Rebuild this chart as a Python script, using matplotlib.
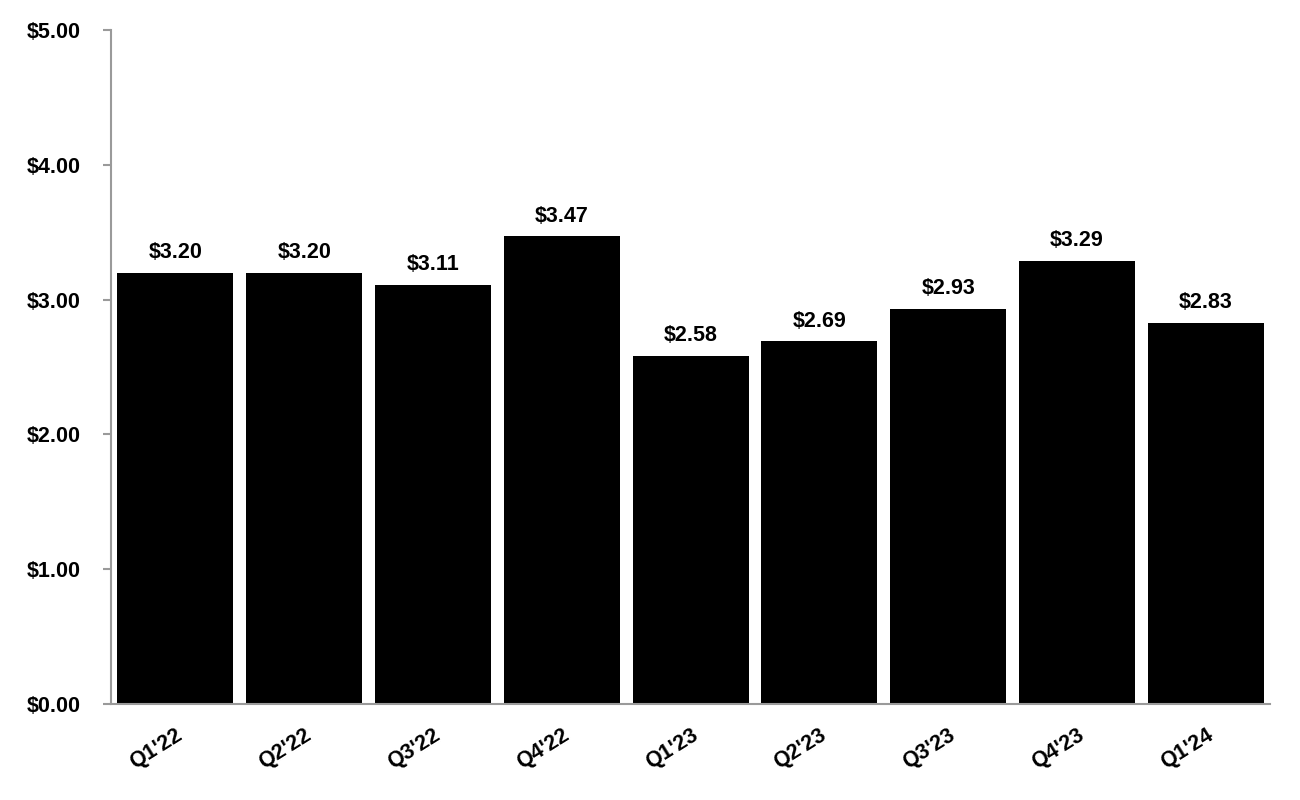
import matplotlib.pyplot as plt
from matplotlib.transforms import ScaledTranslation

quarters = ["Q1'22", "Q2'22", "Q3'22", "Q4'22", "Q1'23", "Q2'23", "Q3'23", "Q4'23", "Q1'24"]
values = [3.20, 3.20, 3.11, 3.47, 2.58, 2.69, 2.93, 3.29, 2.83]
y_ticks = [0, 1, 2, 3, 4, 5]

plt.rcParams['font.family'] = ['Liberation Sans', 'DejaVu Sans']
plt.rcParams['font.weight'] = 'bold'

fig = plt.figure(figsize=(13, 8), dpi=100)
ax = fig.add_axes([0.0854, 0.12, 0.977 - 0.0854, 0.8425])

x = range(len(quarters))
bars = ax.bar(x, values, width=0.9, color='black')
ax.bar_label(bars, labels=[f'${v:.2f}' for v in values], padding=7,
             fontsize=15.5, fontweight='bold')

ax.set_xlim(-0.5, 8.5)
ax.set_ylim(0, 5)
ax.set_yticks(y_ticks)
ax.set_yticklabels([f'${t:.2f}' for t in y_ticks], fontsize=15.5, fontweight='bold')
ax.set_xticks(list(x))
ax.set_xticklabels(quarters, fontsize=15.5, fontweight='bold', rotation=32,
                   ha='right', va='top', rotation_mode='anchor')

# nudge the rotated quarter labels a little to the left
shift = ScaledTranslation(-3 / 100, 0, fig.dpi_scale_trans)
for lbl in ax.get_xticklabels():
    lbl.set_transform(lbl.get_transform() + shift)

for side in ['top', 'right']:
    ax.spines[side].set_visible(False)
for side in ['left', 'bottom']:
    ax.spines[side].set_color('#9a9a9a')
    ax.spines[side].set_linewidth(1.5)
ax.tick_params(axis='y', direction='out', length=6, width=1.5, color='#9a9a9a', pad=16)
ax.tick_params(axis='x', length=0, pad=15)

fig.savefig('out.png', dpi=100)
